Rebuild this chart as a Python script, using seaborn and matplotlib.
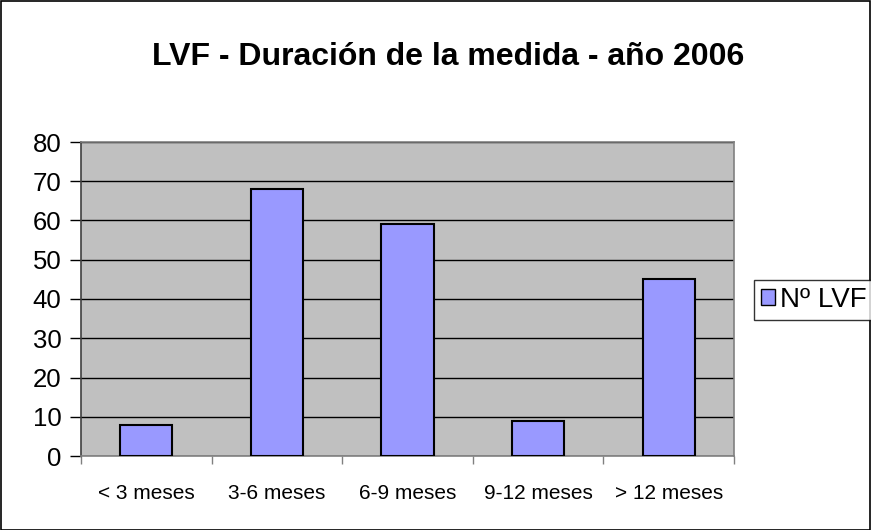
import matplotlib
matplotlib.use("Agg")
import matplotlib.pyplot as plt
import seaborn as sns
import pandas as pd
from matplotlib.patches import Rectangle, Patch
from matplotlib.ticker import FixedLocator

categories = ["< 3 meses", "3-6 meses", "6-9 meses", "9-12 meses", "> 12 meses"]
values = [8, 68, 59, 9, 45]
series_name = "Nº LVF"
title = "LVF - Duración de la medida - año 2006"
y_ticks = [0, 10, 20, 30, 40, 50, 60, 70, 80]

df = pd.DataFrame({"cat": categories, "val": values})

sns.set_theme(style="white")
plt.rcParams["font.family"] = ["Liberation Sans", "DejaVu Sans"]
plt.rcParams["text.color"] = "black"
plt.rcParams["xtick.color"] = "black"
plt.rcParams["ytick.color"] = "black"

fig = plt.figure(figsize=(8.71, 5.30), dpi=100)
fig.patch.set_facecolor("white")
ax = fig.add_axes([81/871, 1-456/530, (734-81)/871, (456-142)/530])
ax.set_facecolor("#C0C0C0")

sns.barplot(data=df, x="cat", y="val", ax=ax, color="#9999FF", width=0.4,
            edgecolor="black", linewidth=1.5, saturation=1, zorder=3)

ax.set_ylim(0, 80)
ax.set_xlim(-0.5, len(categories) - 0.5)
ax.set_yticks(y_ticks)
ax.yaxis.grid(True, color="black", linewidth=1, zorder=0)
ax.set_axisbelow(True)
ax.set_xlabel("")
ax.set_ylabel("")
ax.tick_params(axis="y", labelsize=18.5, length=8, width=1, color="black", labelcolor="black",
               direction="out", left=True, pad=6)
ax.tick_params(axis="x", which="major", labelsize=15, length=0, pad=20, labelcolor="black")
ax.xaxis.set_minor_locator(FixedLocator([i - 0.5 for i in range(len(categories) + 1)]))
ax.tick_params(axis="x", which="minor", length=6, width=1, color="#808080", direction="out", bottom=True)
for s in ax.spines.values():
    s.set_color("#808080")
    s.set_linewidth(1.2)
ax.spines["left"].set_color("#404040")

fig.text(448/871, 1-57/530, title, ha="center", va="center", fontsize=23,
         fontweight="bold", color="black")

handle = Patch(facecolor="#9999FF", edgecolor="black", linewidth=1)
leg = fig.legend([handle], [series_name], loc="center left",
                 bbox_to_anchor=(754/871, 1-300/530), fontsize=20,
                 frameon=True, fancybox=False, edgecolor="black",
                 handlelength=0.5, handleheight=0.5, handletextpad=0.2,
                 borderpad=0.25, borderaxespad=0)
leg.get_frame().set_linewidth(1)
for t in leg.get_texts():
    t.set_color("black")

fig.patches.append(Rectangle((0.5/871, 0.5/530), 1-1.5/871, 1-1.5/530, transform=fig.transFigure,
                             fill=False, edgecolor="black", linewidth=1.2))

fig.savefig("out.png", dpi=100)
